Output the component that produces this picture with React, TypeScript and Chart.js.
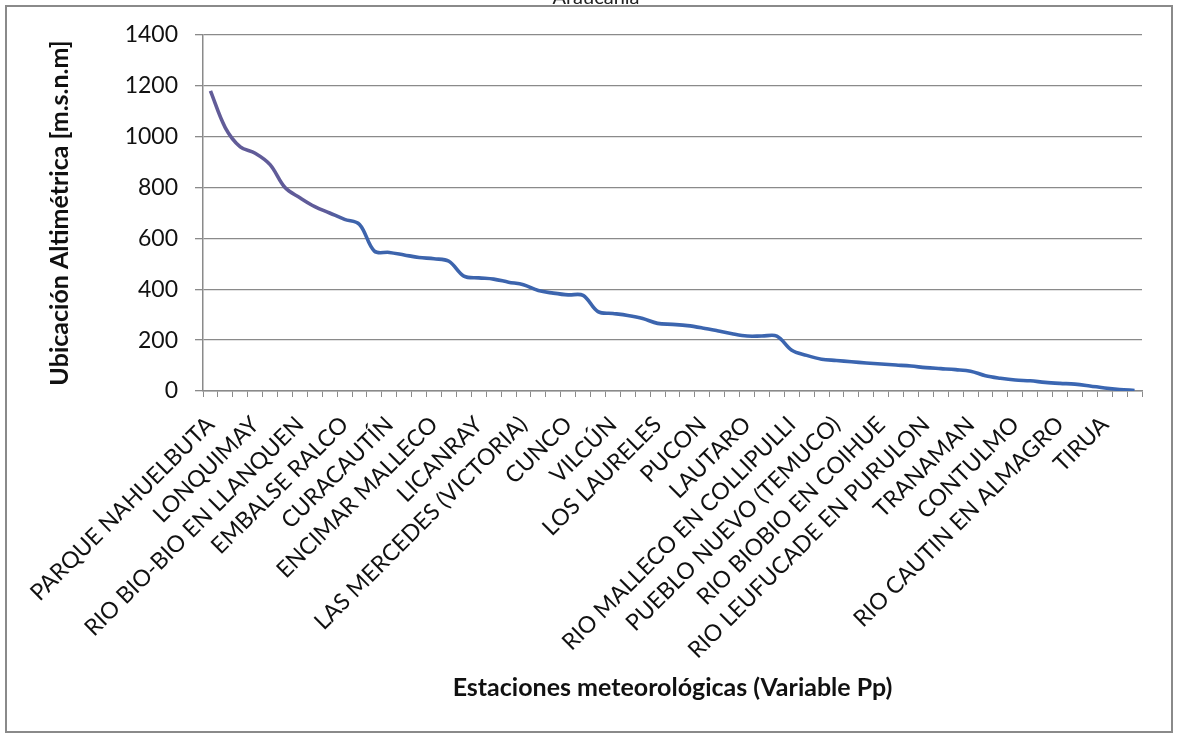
import React, { useEffect, useRef } from "react";
import { Chart, registerables } from "chart.js";

Chart.register(...registerables);

// Weather stations (every third one carries a visible name on the axis)
const stations: string[] = [
  "PARQUE NAHUELBUTA", "", "",
  "LONQUIMAY", "", "",
  "RIO BIO-BIO EN LLANQUEN", "", "",
  "EMBALSE RALCO", "", "",
  "CURACAUTÍN", "", "",
  "ENCIMAR MALLECO", "", "",
  "LICANRAY", "", "",
  "LAS MERCEDES (VICTORIA)", "", "",
  "CUNCO", "", "",
  "VILCÚN", "", "",
  "LOS LAURELES", "", "",
  "PUCON", "", "",
  "LAUTARO", "", "",
  "RIO MALLECO EN COLLIPULLI", "", "",
  "PUEBLO NUEVO (TEMUCO)", "", "",
  "RIO BIOBIO EN COIHUE", "", "",
  "RIO LEUFUCADE EN PURULON", "", "",
  "TRANAMAN", "", "",
  "CONTULMO", "", "",
  "RIO CAUTIN EN ALMAGRO", "", "",
  "TIRUA", "", "",
];

// Altitude of each station [m.s.n.m]
const altitudes: number[] = [
  1180, 1035, 960, 935, 890, 800, 760, 725, 700, 675,
  655, 550, 545, 535, 525, 520, 510, 452, 445, 440,
  428, 418, 395, 385, 378, 376, 312, 305, 297, 285,
  266, 262, 257, 248, 237, 225, 216, 216, 216, 160,
  140, 125, 120, 115, 110, 106, 102, 98, 92, 88,
  84, 78, 60, 50, 43, 40, 34, 30, 27, 20,
  12, 6, 2,
];

const yTicks: number[] = [0, 200, 400, 600, 800, 1000, 1200, 1400];

const regionTitle = "Araucanía";
const xTitle = "Estaciones meteorológicas (Variable Pp)";
const yTitle = "Ubicación Altimétrica [m.s.n.m]";

const W = 1181;
const H = 734;
const FONT = "Lato, 'Open Sans', sans-serif";

const framePlugin = {
  id: "frame",
  beforeDraw(chart: Chart) {
    const ctx = chart.ctx;
    ctx.save();
    ctx.fillStyle = "#ffffff";
    ctx.fillRect(0, 0, W, H);
    ctx.strokeStyle = "#8a8a8a";
    ctx.lineWidth = 2;
    ctx.strokeRect(6, 6, 1166, 726);
    ctx.fillStyle = "#222222";
    ctx.font = `20px ${FONT}`;
    ctx.textAlign = "center";
    ctx.textBaseline = "alphabetic";
    ctx.fillText(regionTitle, 596, 4);
    ctx.restore();
  },
};

export default function App() {
  const canvasRef = useRef<HTMLCanvasElement | null>(null);

  useEffect(() => {
    const canvas = canvasRef.current;
    if (!canvas) return;
    const chart = new Chart(canvas, {
      type: "line",
      data: {
        labels: stations,
        datasets: [
          {
            data: altitudes,
            borderWidth: 3.6,
            pointRadius: 0,
            tension: 0.35,
            borderColor: (context: any) => {
              const area = context.chart.chartArea;
              if (!area) return "#3d66ae";
              const g = context.chart.ctx.createLinearGradient(area.left, 0, area.right, 0);
              g.addColorStop(0, "#625c98");
              g.addColorStop(0.13, "#5f5b99");
              g.addColorStop(0.16, "#3d64ac");
              g.addColorStop(1, "#3a66b2");
              return g;
            },
          },
        ],
      },
      options: {
        responsive: false,
        animation: false,
        devicePixelRatio: 1,
        layout: { padding: { top: 35, right: 39, left: 0, bottom: 0 } },
        plugins: {
          legend: { display: false },
          tooltip: { enabled: false },
          title: { display: false },
        },
        scales: {
          x: {
            type: "category",
            offset: true,
            grid: {
              offset: true,
              drawOnChartArea: false,
              drawTicks: true,
              tickLength: 6,
              color: "#8a8a8a",
            },
            border: { display: true, color: "#8a8a8a", width: 1.5 },
            ticks: {
              autoSkip: false,
              maxRotation: 45,
              minRotation: 45,
              padding: 14,
              color: "#111111",
              font: { family: FONT, size: 23 },
              callback: (_v: any, i: number) => stations[i],
            },
            title: {
              display: true,
              text: xTitle,
              color: "#111111",
              font: { family: FONT, size: 25, weight: "bold" },
              padding: { top: 0, bottom: 31 },
            },
            afterFit: (scale: any) => {
              scale.height = 343;
            },
          },
          y: {
            min: 0,
            max: 1400,
            afterBuildTicks: (scale: any) => {
              scale.ticks = yTicks.map((v) => ({ value: v }));
            },
            grid: {
              color: "#8a8a8a",
              lineWidth: 1.3,
              tickLength: 8,
            },
            border: { display: true, color: "#8a8a8a", width: 1.5 },
            ticks: {
              padding: 17,
              color: "#111111",
              font: { family: FONT, size: 23 },
              callback: (v: any) => String(v),
            },
            title: {
              display: true,
              text: yTitle,
              color: "#111111",
              font: { family: FONT, size: 25, weight: "bold" },
              padding: { top: 45, bottom: 0 },
            },
            afterFit: (scale: any) => {
              scale.width = 203;
            },
          },
        },
      },
      plugins: [framePlugin],
    } as any);
    return () => chart.destroy();
  }, []);

  return (
    <div style={{ position: "fixed", left: 0, top: 0, width: W, height: H, background: "#fff" }}>
      <canvas ref={canvasRef} width={W} height={H} style={{ display: "block" }} />
    </div>
  );
}
